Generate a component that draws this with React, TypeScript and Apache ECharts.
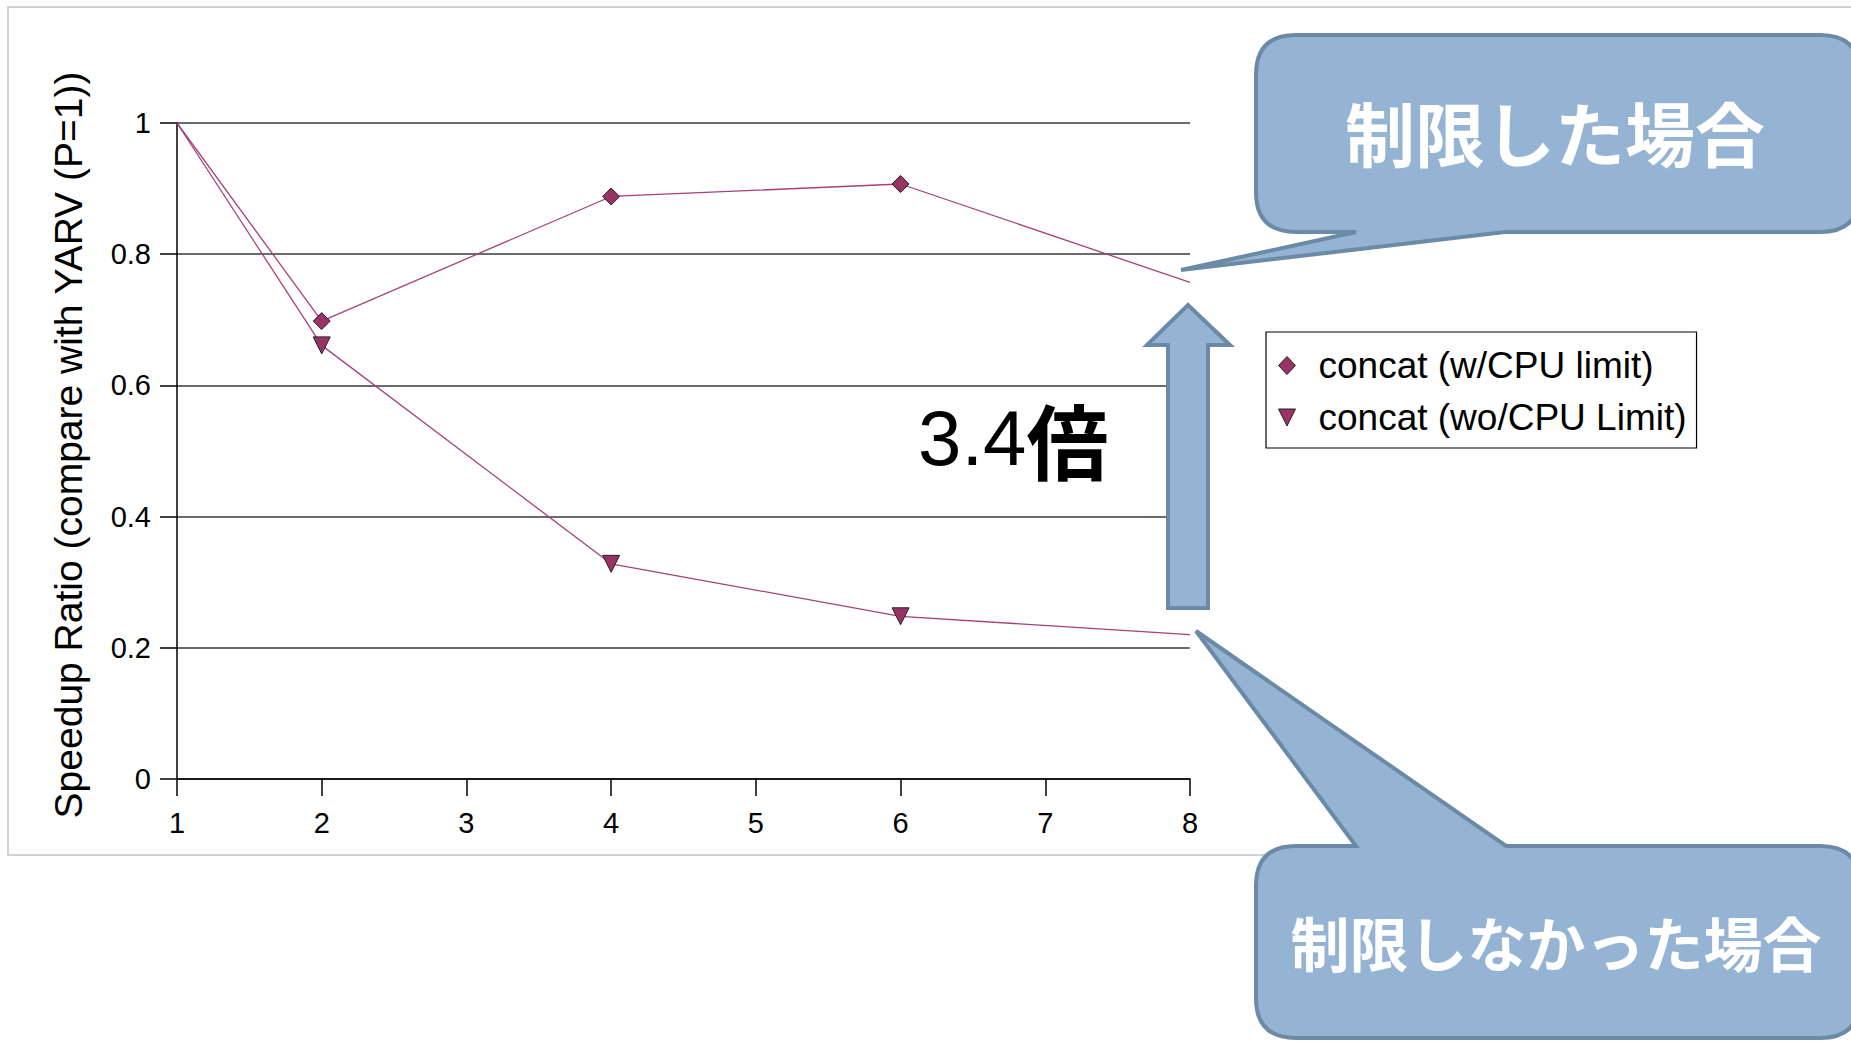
import React, { useEffect, useRef } from "react";
import * as echarts from "echarts";

// Processor counts on the x axis
const cpuCounts = [1, 2, 4, 6, 8];
// Speedup ratio relative to YARV with P=1
const withCpuLimit = [1.0, 0.698, 0.888, 0.907, 0.757];
const withoutCpuLimit = [1.0, 0.661, 0.328, 0.248, 0.22];
const seriesNames = ["concat (w/CPU limit)", "concat (wo/CPU Limit)"];
const yAxisTitle = "Speedup Ratio (compare with YARV (P=1))";
const calloutLimited = "制限した場合";
const calloutUnlimited = "制限しなかった場合";
const ratioNumber = "3.4";
const ratioUnit = "倍";

const FONT = '"Liberation Sans", Arial, sans-serif';
const CJK = '"Noto Sans CJK JP", "Noto Sans CJK SC", sans-serif';
const MARK = "#993366";
const LINE = "#a8407a";
const BUBBLE_FILL = "#95b3d3";
const BUBBLE_STROKE = "#6b8aa6";
const DOWN_TRIANGLE = "path://M0,0L20,0L10,20Z";

// Rounded box with a tail on its bottom edge (tailOnTop=false) or its top edge.
function calloutPath(
  l: number, t: number, r: number, b: number, rad: number,
  tailA: number, tailB: number, tipX: number, tipY: number, tailOnTop: boolean
): string {
  const parts: string[] = [];
  parts.push(`M${l + rad},${t}`);
  if (tailOnTop) {
    parts.push(`L${tailA},${t}`, `L${tipX},${tipY}`, `L${tailB},${t}`);
  }
  parts.push(`L${r - rad},${t}`, `Q${r},${t} ${r},${t + rad}`);
  parts.push(`L${r},${b - rad}`, `Q${r},${b} ${r - rad},${b}`);
  if (!tailOnTop) {
    parts.push(`L${tailB},${b}`, `L${tipX},${tipY}`, `L${tailA},${b}`);
  }
  parts.push(`L${l + rad},${b}`, `Q${l},${b} ${l},${b - rad}`);
  parts.push(`L${l},${t + rad}`, `Q${l},${t} ${l + rad},${t}`, "Z");
  return parts.join(" ");
}

let shapesRegistered = false;
function registerShapes() {
  if (shapesRegistered) return;
  echarts.graphic.registerShape(
    "calloutTop",
    echarts.graphic.extendPath(
      calloutPath(1256, 35, 1860, 232, 40, 1356, 1505, 1181, 270, false),
      {}
    ) as any
  );
  echarts.graphic.registerShape(
    "calloutBottom",
    echarts.graphic.extendPath(
      calloutPath(1256, 846, 1860, 1038, 40, 1356, 1506, 1196, 631, true),
      {}
    ) as any
  );
  shapesRegistered = true;
}

function toPoints(values: number[]) {
  return values.map((v, i) => {
    const edge = i === 0 || i === values.length - 1;
    return edge ? { value: [cpuCounts[i], v], symbol: "none" } : { value: [cpuCounts[i], v] };
  });
}

export default function App() {
  const ref = useRef<HTMLDivElement>(null);

  useEffect(() => {
    if (!ref.current) return;
    registerShapes();
    const chart = echarts.init(ref.current, undefined, { renderer: "svg" });
    chart.setOption({
      animation: false,
      backgroundColor: "#ffffff",
      grid: { left: 177, right: 661, top: 123, bottom: 262 },
      legend: {
        orient: "vertical",
        left: 1266,
        top: 332,
        padding: [15, 10, 12, 12],
        itemGap: 15,
        itemWidth: 17,
        itemHeight: 18,
        borderColor: "#000000",
        borderWidth: 1.2,
        backgroundColor: "#ffffff",
        textStyle: { fontFamily: FONT, fontSize: 37, color: "#000000", padding: [0, 0, 0, 18] },
        data: [
          { name: seriesNames[0], icon: "diamond", itemStyle: { color: MARK, borderColor: "#222", borderWidth: 1 } },
          { name: seriesNames[1], icon: DOWN_TRIANGLE, itemStyle: { color: MARK, borderColor: "#222", borderWidth: 1 } },
        ],
      },
      xAxis: {
        type: "value",
        min: 1,
        max: 8,
        interval: 1,
        axisLine: { show: true, lineStyle: { color: "#000000", width: 1.5 } },
        axisTick: { show: true, length: 17, lineStyle: { color: "#000000", width: 1.5 } },
        axisLabel: { fontFamily: FONT, fontSize: 29, color: "#000000", margin: 29 },
        splitLine: { show: false },
      },
      yAxis: {
        type: "value",
        min: 0,
        max: 1,
        interval: 0.2,
        axisLine: { show: true, lineStyle: { color: "#000000", width: 1.5 } },
        axisTick: { show: true, length: 17, lineStyle: { color: "#000000", width: 1.5 } },
        axisLabel: { fontFamily: FONT, fontSize: 29, color: "#000000", margin: 26 },
        splitLine: { show: true, lineStyle: { color: "#3a3a3a", width: 1.6 } },
      },
      series: [
        {
          name: seriesNames[0],
          type: "line",
          data: toPoints(withCpuLimit),
          symbol: "diamond",
          symbolSize: 17,
          lineStyle: { color: LINE, width: 1.3 },
          itemStyle: { color: MARK, borderColor: "#222", borderWidth: 1 },
          z: 3,
        },
        {
          name: seriesNames[1],
          type: "line",
          data: toPoints(withoutCpuLimit),
          symbol: DOWN_TRIANGLE,
          symbolSize: 17,
          lineStyle: { color: LINE, width: 1.3 },
          itemStyle: { color: MARK, borderColor: "#222", borderWidth: 1 },
          z: 3,
        },
      ],
      graphic: [
        {
          type: "rect",
          z: -10,
          silent: true,
          shape: { x: 8, y: 7, width: 1900, height: 848 },
          style: { fill: "none", stroke: "#c4c4c4", lineWidth: 1.5 },
        },
        {
          // vertical y-axis title
          type: "text",
          x: 88,
          y: 445,
          rotation: Math.PI / 2,
          style: {
            text: yAxisTitle,
            fill: "#000000",
            font: `39px ${FONT}`,
            align: "center",
            verticalAlign: "bottom",
          },
        },
        {
          type: "polygon",
          z: 50,
          shape: {
            points: [
              [1168, 608], [1168, 345], [1147, 345], [1188, 305],
              [1230, 345], [1208, 345], [1208, 608],
            ],
          },
          style: { fill: BUBBLE_FILL, stroke: BUBBLE_STROKE, lineWidth: 4 },
        },
        {
          type: "calloutTop",
          z: 50,
          x: 0,
          y: 0,
          style: { fill: BUBBLE_FILL, stroke: BUBBLE_STROKE, lineWidth: 4 },
        },
        {
          type: "calloutBottom",
          z: 50,
          x: 0,
          y: 0,
          style: { fill: BUBBLE_FILL, stroke: BUBBLE_STROKE, lineWidth: 4 },
        },
        {
          type: "text",
          z: 60,
          x: 1555,
          y: 131,
          style: {
            text: calloutLimited,
            fill: "#ffffff",
            font: `bold 70px ${CJK}`,
            align: "center",
            verticalAlign: "middle",
          },
        },
        {
          type: "text",
          z: 60,
          x: 1556,
          y: 941,
          style: {
            text: calloutUnlimited,
            fill: "#ffffff",
            font: `bold 59px ${CJK}`,
            align: "center",
            verticalAlign: "middle",
          },
        },
        {
          type: "text",
          z: 60,
          x: 918,
          y: 438,
          style: {
            text: `{n|${ratioNumber}}{u|${ratioUnit}}`,
            align: "left",
            verticalAlign: "middle",
            rich: {
              n: { fontFamily: FONT, fontSize: 78, fill: "#000000", color: "#000000" },
              u: { fontFamily: CJK, fontSize: 82, fontWeight: "bold", fill: "#000000", color: "#000000" },
            },
          },
        },
      ],
    });
    return () => chart.dispose();
  }, []);

  return (
    <div
      ref={ref}
      style={{ position: "fixed", left: 0, top: 0, width: 1851, height: 1041, background: "#ffffff" }}
    />
  );
}
